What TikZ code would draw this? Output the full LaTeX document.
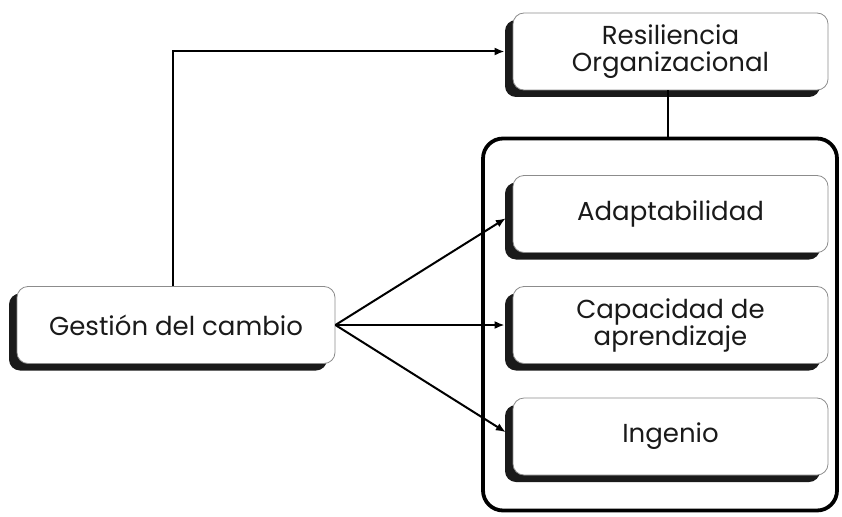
\documentclass[tikz,border=0pt]{standalone}
\usepackage{fontspec}
\setmainfont{Poppins}
\usetikzlibrary{arrows.meta,shadows}
\definecolor{ink}{HTML}{1A1A1A}
\tikzset{
  card/.style={draw=black!45, line width=0.8pt, fill=white, rounded corners=11pt,
    minimum width=315pt, minimum height=77pt, align=center, text=ink,
    font=\fontsize{26}{27}\selectfont,
    drop shadow={shadow xshift=-8pt, shadow yshift=-7pt, fill=ink, opacity=1}},
  group/.style={draw=black, line width=3.8pt, rounded corners=20pt,
    minimum width=354pt, minimum height=372pt},
  link/.style={draw=black, line width=2pt, -{Latex[length=10pt,width=8pt]}, shorten >=8pt},
}
\begin{document}
\begin{tikzpicture}[x=1pt,y=-1pt]
  \useasboundingbox (0,0) rectangle (842,516);
  % outer frame around the three components
  \node[group] (grp) at (660,324.5) {};
  % main concept and its components
  \node[card] (res) at (670.5,51.5) {Resiliencia\\Organizacional};
  \node[card] (ada) at (670.5,214) {Adaptabilidad};
  \node[card] (cap) at (670.5,325) {Capacidad de\\aprendizaje};
  \node[card] (ing) at (670.5,436.5) {Ingenio};
  \node[card, minimum width=318pt] (ges) at (176,325) {Gestión del cambio};
  % connectors
  \draw[line width=2pt] ([xshift=-3pt]res.south) -- ([xshift=-3pt]res.south |- grp.north);
  \draw[link] ([xshift=-3pt]ges.north) |- (res.west);
  \draw[link] (ges.east) -- (ada.west);
  \draw[link] (ges.east) -- (cap.west);
  \draw[link] (ges.east) -- (ing.west);
\end{tikzpicture}
\end{document}
